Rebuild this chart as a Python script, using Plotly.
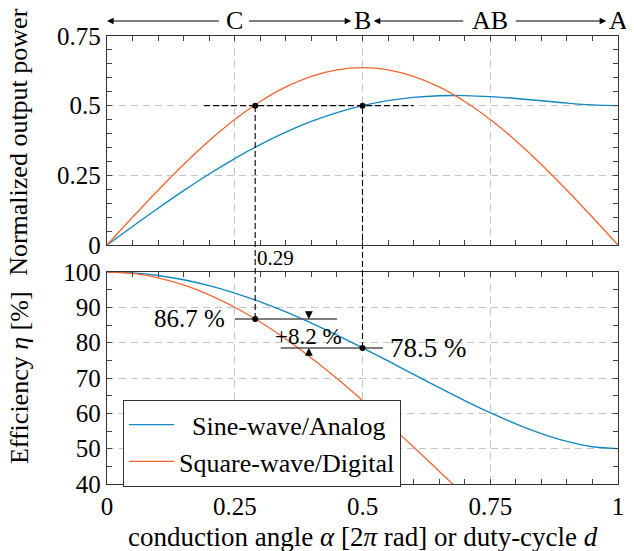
import plotly.graph_objects as go

# ---- data ----
alpha = [0, 0.05, 0.1, 0.15, 0.2, 0.25, 0.3, 0.35, 0.4, 0.45, 0.5,
         0.55, 0.6, 0.65, 0.7, 0.75, 0.8, 0.85, 0.9, 0.95, 1.0]
p_sine = [0, 0.0665, 0.1318, 0.1949, 0.2547, 0.3102, 0.3606, 0.4052, 0.4435, 0.4751, 0.5,
          0.5181, 0.5298, 0.5356, 0.5362, 0.5326, 0.5259, 0.5176, 0.5092, 0.5027, 0.5]
p_square = [0, 0.0996, 0.1967, 0.2890, 0.3742, 0.4502, 0.5150, 0.5672, 0.6055, 0.6288, 0.6366,
            0.6288, 0.6055, 0.5672, 0.5150, 0.4502, 0.3742, 0.2890, 0.1967, 0.0996, 0]
eta_sine = [100, 99.75, 99.03, 97.81, 96.14, 94.04, 91.54, 88.69, 85.54, 82.14, 78.54,
            74.82, 71.04, 67.28, 63.63, 60.18, 57.02, 54.26, 52.06, 50.56, 50.0]
d_square = [0, 0.05, 0.1, 0.15, 0.2, 0.25, 0.3, 0.35, 0.4, 0.45, 0.5, 0.55, 0.6, 0.65, 0.7]
eta_square = [100, 99.59, 98.36, 96.34, 93.55, 90.03, 85.84, 81.03, 75.68, 69.86, 63.66,
              57.16, 50.46, 43.63, 36.79]

# marked operating points
x_dig, x_ana = 0.29, 0.5
p_mark = 0.5
eta_dig, eta_ana = 86.7, 78.5
gain_label = "+8.2 %"

classes = ["C", "B", "AB", "A"]
class_pos = [0.25, 0.5, 0.75, 1.0]

BLUE = "#1387C0"
ORANGE = "#F2652F"
FONT = "Liberation Serif, Times New Roman, serif"

top_dom = [0.5335, 1.0]
bot_dom = [0.0, 0.4732]
top_rng = [0, 0.75]
bot_rng = [40, 100]


def paper_y(v, rng, dom):
    return dom[0] + (v - rng[0]) / (rng[1] - rng[0]) * (dom[1] - dom[0])


fig = go.Figure()

# top: power
fig.add_trace(go.Scatter(x=alpha, y=p_sine, mode="lines", line=dict(color=BLUE, width=1.4, shape="spline"),
                         xaxis="x", yaxis="y", showlegend=False))
fig.add_trace(go.Scatter(x=alpha, y=p_square, mode="lines", line=dict(color=ORANGE, width=1.3, shape="spline"),
                         xaxis="x", yaxis="y", showlegend=False))
# horizontal dashed at 0.5
fig.add_trace(go.Scatter(x=[x_dig - 0.1, x_ana + 0.1], y=[p_mark, p_mark], mode="lines",
                         line=dict(color="black", width=1.1, dash="6px,3px"),
                         xaxis="x", yaxis="y", showlegend=False, hoverinfo="skip"))
fig.add_trace(go.Scatter(x=[x_dig, x_ana], y=[p_mark, p_mark], mode="markers",
                         marker=dict(color="black", size=6), xaxis="x", yaxis="y", showlegend=False))

# bottom: efficiency
fig.add_trace(go.Scatter(x=alpha, y=eta_sine, mode="lines", line=dict(color=BLUE, width=1.4, shape="spline"),
                         xaxis="x2", yaxis="y2", name="\u00a0\u00a0Sine-wave/Analog"))
fig.add_trace(go.Scatter(x=d_square, y=eta_square, mode="lines", line=dict(color=ORANGE, width=1.3, shape="spline"),
                         xaxis="x2", yaxis="y2", name="Square-wave/Digital"))
# gray horizontal reference lines
fig.add_trace(go.Scatter(x=[x_dig - 0.04, x_dig + 0.16], y=[eta_dig, eta_dig], mode="lines",
                         line=dict(color="#555555", width=1.5), xaxis="x2", yaxis="y2",
                         showlegend=False, hoverinfo="skip"))
fig.add_trace(go.Scatter(x=[x_ana - 0.16, x_ana + 0.04], y=[eta_ana, eta_ana], mode="lines",
                         line=dict(color="#555555", width=1.5), xaxis="x2", yaxis="y2",
                         showlegend=False, hoverinfo="skip"))
fig.add_trace(go.Scatter(x=[x_dig, x_ana], y=[eta_dig, eta_ana], mode="markers",
                         marker=dict(color="black", size=6), xaxis="x2", yaxis="y2", showlegend=False))

shapes = []
for xv, ev in [(x_dig, eta_dig), (x_ana, eta_ana)]:
    shapes.append(dict(type="line", xref="x", yref="paper", x0=xv, x1=xv,
                       y0=paper_y(ev, bot_rng, bot_dom), y1=paper_y(p_mark, top_rng, top_dom),
                       line=dict(color="black", width=1.1, dash="6px,3px"), layer="above"))

annotations = []
# class arrows above top plot
ya = 1.0335
arrows = [(0.0, 0.222), (0.478, 0.275), (0.522, 0.70), (0.977, 0.797)]
for head, tail in arrows:
    annotations.append(dict(x=head, y=ya, xref="x", yref="paper", ax=tail, ay=0, axref="x", ayref="pixel",
                            text="", showarrow=True, arrowhead=2, arrowsize=1.2, arrowwidth=1.1,
                            arrowcolor="black", standoff=0, startstandoff=0))
for lbl, xp in zip(classes, class_pos):
    annotations.append(dict(x=xp, y=ya, xref="x", yref="paper", text=lbl, showarrow=False,
                            font=dict(size=26, color="black", family=FONT), xanchor="center", yanchor="middle"))

# value labels
annotations.append(dict(x=x_dig, y=(top_dom[0] + bot_dom[1]) / 2, xref="x", yref="paper", text=f"{x_dig}",
                        showarrow=False, xanchor="left", yanchor="middle", xshift=0,
                        font=dict(size=21, color="black", family=FONT)))
annotations.append(dict(x=x_dig - 0.055, y=eta_dig, xref="x2", yref="y2", text=f"{eta_dig} %",
                        showarrow=False, xanchor="right", yanchor="middle",
                        font=dict(size=25, color="black", family=FONT)))
annotations.append(dict(x=x_ana + 0.05, y=eta_ana, xref="x2", yref="y2", text=f"{eta_ana} %",
                        showarrow=False, xanchor="left", yanchor="middle",
                        font=dict(size=27, color="black", family=FONT)))
annotations.append(dict(x=0.395, y=(eta_dig + eta_ana) / 2 - 0.8, xref="x2", yref="y2", text=gain_label,
                        showarrow=False, xanchor="center", yanchor="middle",
                        font=dict(size=23, color="black", family=FONT)))
# small arrowheads
annotations.append(dict(x=0.395, y=eta_dig, xref="x2", yref="y2", ax=0, ay=-9, text="", showarrow=True,
                        arrowhead=2, arrowsize=1.3, arrowwidth=1.2, arrowcolor="black", standoff=0))
annotations.append(dict(x=0.395, y=eta_ana, xref="x2", yref="y2", ax=0, ay=9, text="", showarrow=True,
                        arrowhead=2, arrowsize=1.3, arrowwidth=1.2, arrowcolor="black", standoff=0))

# axis titles
annotations.append(dict(x=-0.172, y=(top_dom[0] + top_dom[1]) / 2 - 0.005, xref="paper", yref="paper",
                        text="Normalized output power", textangle=-90, showarrow=False,
                        xanchor="center", yanchor="middle",
                        font=dict(size=26, color="black", family=FONT)))
annotations.append(dict(x=-0.172, y=(bot_dom[0] + bot_dom[1]) / 2, xref="paper", yref="paper",
                        text="Efficiency <i>η</i> [%]", textangle=-90, showarrow=False,
                        xanchor="center", yanchor="middle",
                        font=dict(size=26, color="black", family=FONT)))
annotations.append(dict(x=0.5, y=-0.118, xref="paper", yref="paper",
                        text="conduction angle <i>α</i> [2<i>π</i> rad] or duty-cycle <i>d</i>",
                        showarrow=False, xanchor="center", yanchor="middle",
                        font=dict(size=27, color="black", family=FONT)))

axis_common = dict(showline=True, linecolor="#333333", linewidth=1.3, mirror="allticks",
                   ticks="inside", ticklen=5, tickcolor="#444444", tickwidth=1,
                   showgrid=True, gridcolor="#c4c4c4", gridwidth=1, griddash="7px,5px",
                   zeroline=False, tickfont=dict(size=25, color="black", family=FONT))

minor_tick = dict(ticks="inside", ticklen=5, tickcolor="#444444", showgrid=False)

# the page body adds an 8 px offset; the figure is sized to fit the 634x551 window
fig.update_layout(
    width=626, height=543,
    margin=dict(l=99, r=10, t=28, b=67),
    paper_bgcolor="white", plot_bgcolor="white",
    font=dict(family=FONT, color="black"),
    xaxis=dict(axis_common, domain=[0, 1], range=[0, 1], dtick=0.25, anchor="y", showticklabels=False,
               minor=dict(minor_tick, dtick=0.05)),
    yaxis=dict(axis_common, domain=top_dom, range=top_rng, dtick=0.25, anchor="x",
               minor=dict(minor_tick, dtick=0.05)),
    xaxis2=dict(axis_common, domain=[0, 1], range=[0, 1], dtick=0.25, anchor="y2", matches="x",
                minor=dict(minor_tick, dtick=0.05)),
    yaxis2=dict(axis_common, domain=bot_dom, range=bot_rng, dtick=10, anchor="x2",
                minor=dict(minor_tick, dtick=5)),
    legend=dict(x=0.031, y=0.1875, xanchor="left", yanchor="top", xref="paper", yref="paper",
                bgcolor="white", bordercolor="#333333", borderwidth=1.2,
                font=dict(size=26, color="black", family=FONT), itemwidth=45, tracegroupgap=0),
    shapes=shapes,
    annotations=annotations,
)

fig.write_html("out.html")
